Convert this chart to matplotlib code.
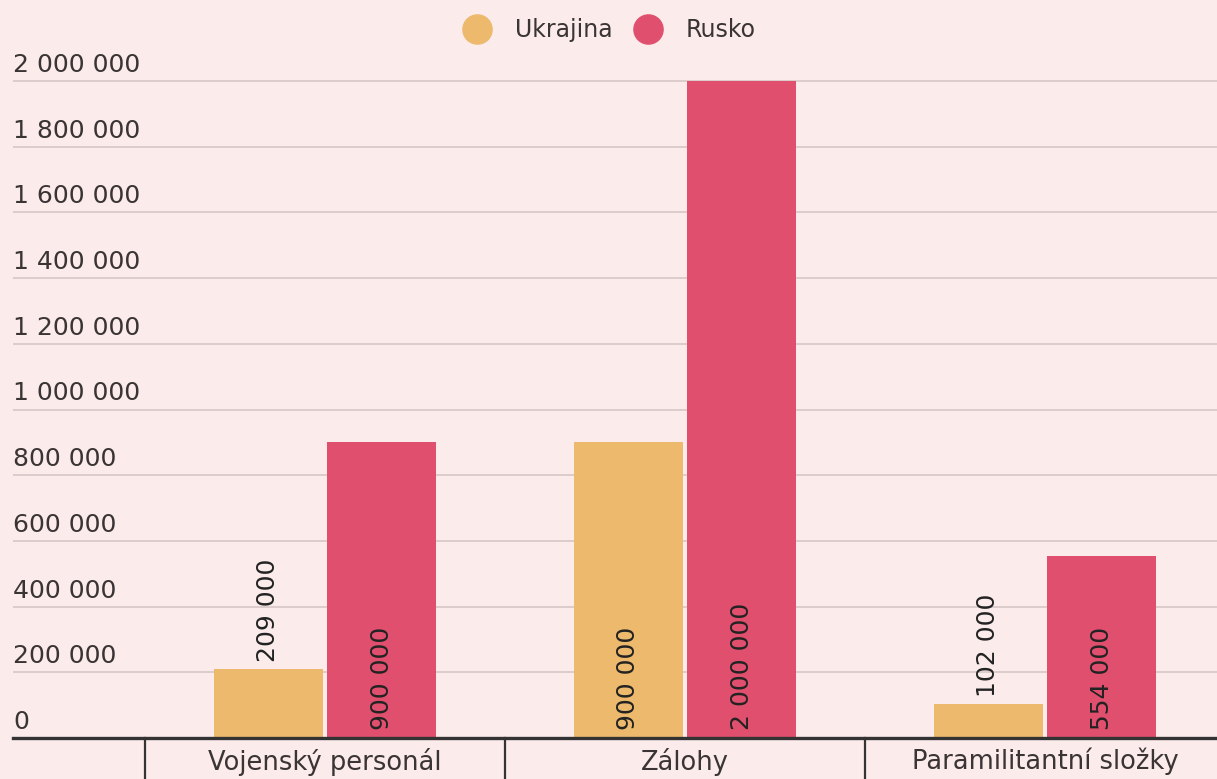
import matplotlib.pyplot as plt
import matplotlib.transforms as mtransforms
from matplotlib.lines import Line2D

categories = ['Vojenský personál', 'Zálohy', 'Paramilitantní složky']
series_names = ['Ukrajina', 'Rusko']
ukrajina = [209000, 900000, 102000]
rusko = [900000, 2000000, 554000]
y_ticks = [0, 200000, 400000, 600000, 800000, 1000000,
           1200000, 1400000, 1600000, 1800000, 2000000]

BG = '#fbebeb'
TEXT = '#3a3434'
colors = ['#edb96c', '#e0506e']


def fmt(v):
    return f'{v:,}'.replace(',', ' ')


plt.rcParams['font.family'] = ['DejaVu Sans']

W, H = 1217, 779
fig = plt.figure(figsize=(W / 100, H / 100), dpi=100, facecolor=BG)
ax = fig.add_axes([13 / W, 41 / H, 1 - 13 / W, (738 - 70) / H])
ax.set_facecolor(BG)

x = list(range(len(categories)))
width = 0.303
offset = 0.158

for i, (name, vals) in enumerate(zip(series_names, [ukrajina, rusko])):
    xs = [xi + (offset if i else -offset) for xi in x]
    ax.bar(xs, vals, width=width, color=colors[i], zorder=3, label=name)
    for xb, v in zip(xs, vals):
        if v > 400000:
            # label inside bar, at the base
            ax.annotate(fmt(v), xy=(xb, 0), xytext=(0, 8),
                        textcoords='offset pixels', rotation=90,
                        ha='center', va='bottom', fontsize=18,
                        color='#222222', zorder=4)
        else:
            ax.annotate(fmt(v), xy=(xb, v), xytext=(0, 7),
                        textcoords='offset pixels', rotation=90,
                        ha='center', va='bottom', fontsize=18,
                        color='#222222', zorder=4)

ax.set_xlim(-0.867, 2.478)
ax.set_ylim(0, 2000000 * 668 / 657)

# gridlines and y labels sitting above the lines
ax.set_yticks(y_ticks)
ax.tick_params(axis='y', length=0, labelleft=False)
ax.grid(axis='y', color='#dccccc', linewidth=1.4, zorder=0)
for t in y_ticks:
    ax.annotate(fmt(t), xy=(0, t), xycoords=('axes fraction', 'data'),
                xytext=(0, 4), textcoords='offset pixels',
                ha='left', va='bottom', fontsize=18, color=TEXT)

ax.set_xticks(x)
ax.set_xticklabels(categories, fontsize=18.5, color=TEXT)
ax.tick_params(axis='x', length=0, pad=7)

for s in ['top', 'right', 'left']:
    ax.spines[s].set_visible(False)
ax.spines['bottom'].set_color('#333333')
ax.spines['bottom'].set_linewidth(2.4)
ax.spines['bottom'].set_zorder(5)

# separators between categories
trans = mtransforms.blended_transform_factory(ax.transData, ax.transAxes)
for b in [-0.5, 0.5, 1.5]:
    ax.plot([b, b], [0, -0.1], transform=trans, color='#333333',
            linewidth=1.6, clip_on=False)

handles = [Line2D([0], [0], marker='o', linestyle='', markersize=21,
                  markerfacecolor=c, markeredgecolor=c) for c in colors]
fig.legend(handles, series_names, loc='upper center',
           bbox_to_anchor=(0.497, 1.004), ncol=2, frameon=False,
           fontsize=17, handletextpad=0.6, columnspacing=0.5,
           labelcolor=TEXT)

fig.savefig('out.png', dpi=100, facecolor=BG)
